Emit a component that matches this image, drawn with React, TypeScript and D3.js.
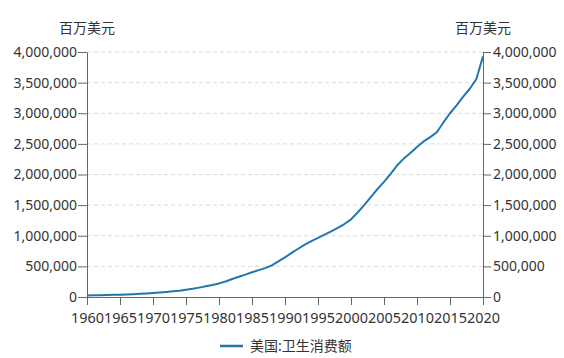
import React, { useEffect, useRef } from 'react';
import * as d3 from 'd3';

// 美国卫生消费额，百万美元
const years: number[] = d3.range(1960, 2021);
const healthSpend: number[] = [
  25000, 27000, 29000, 32000, 35000, 38000, 42000, 46000, 52000, 58000,
  66000, 75000, 83000, 93000, 103000, 117000, 133000, 153000, 174000, 196000,
  222000, 253000, 294000, 331000, 366000, 403000, 439000, 472000, 516000, 582000,
  646000, 720000, 788000, 854000, 913000, 965000, 1020000, 1073000, 1129000, 1191000,
  1267000, 1380000, 1500000, 1630000, 1760000, 1880000, 2010000, 2150000, 2260000, 2350000,
  2450000, 2540000, 2610000, 2690000, 2850000, 3000000, 3130000, 3270000, 3400000, 3560000,
  3930000,
];
const xTicks: number[] = d3.range(1960, 2021, 5);
const yTicks: number[] = d3.range(0, 4000001, 500000);
const unitLabel = '百万美元';
const seriesName = '美国:卫生消费额';

const W = 564;
const H = 358;
const FONT = '"Noto Sans", "Noto Sans CJK SC", sans-serif';

const App: React.FC = () => {
  const svgRef = useRef<SVGSVGElement>(null);

  useEffect(() => {
    if (!svgRef.current) return;
    const margin = { top: 52, right: 81, bottom: 61, left: 87 };
    const width = W - margin.left - margin.right;
    const height = H - margin.top - margin.bottom;

    const svg = d3.select(svgRef.current);
    svg.selectAll('*').remove();

    const g = svg.append('g').attr('transform', `translate(${margin.left},${margin.top})`);

    const x = d3.scaleLinear().domain([1960, 2020]).range([0, width]);
    const y = d3.scaleLinear().domain([0, 4000000]).range([height, 0]);

    // grid
    g.append('g')
      .selectAll('line')
      .data(yTicks.filter(d => d > 0))
      .enter().append('line')
      .attr('x1', 0)
      .attr('x2', width)
      .attr('y1', d => y(d))
      .attr('y2', d => y(d))
      .attr('stroke', '#dcdcdc')
      .attr('stroke-dasharray', '4,3');

    const fmt = d3.format(',');

    const styleAxis = (size: string) => (sel: d3.Selection<SVGGElement, unknown, null, undefined>) => {
      sel.selectAll('path, line').attr('stroke', '#666');
      sel.selectAll('text').attr('fill', '#333').style('font-size', size).style('font-family', FONT);
    };

    g.append('g')
      .call(d3.axisLeft(y).tickValues(yTicks).tickFormat(d => fmt(d as number)).tickSize(9).tickPadding(1).tickSizeOuter(0))
      .call(styleAxis('14px'));

    g.append('g')
      .attr('transform', `translate(${width},0)`)
      .call(d3.axisRight(y).tickValues(yTicks).tickFormat(d => fmt(d as number)).tickSize(8).tickPadding(2).tickSizeOuter(0))
      .call(styleAxis('14px'));

    g.append('g')
      .attr('transform', `translate(0,${height})`)
      .call(d3.axisBottom(x).tickValues(xTicks).tickFormat(d => String(d)).tickSize(8).tickPadding(8).tickSizeOuter(0))
      .call(styleAxis('14.4px'));

    const line = d3.line<number>()
      .x((_, i) => x(years[i]))
      .y(d => y(d));

    g.append('path')
      .datum(healthSpend)
      .attr('fill', 'none')
      .attr('stroke', '#2177ad')
      .attr('stroke-width', 2)
      .attr('stroke-linejoin', 'round')
      .attr('d', line);

    // unit titles
    [0, width].forEach(px => {
      g.append('text')
        .attr('x', px)
        .attr('y', -19)
        .attr('text-anchor', 'middle')
        .attr('fill', '#333')
        .style('font-size', '14px')
        .style('font-family', FONT)
        .text(unitLabel);
    });

    // legend
    const lg = svg.append('g').attr('transform', `translate(220,346)`);
    lg.append('line')
      .attr('x1', 0).attr('x2', 23)
      .attr('stroke', '#2177ad')
      .attr('stroke-width', 2.5);
    lg.append('text')
      .attr('x', 30)
      .attr('dy', '0.35em')
      .attr('fill', '#333')
      .style('font-size', '14px')
      .style('font-family', FONT)
      .text(seriesName);
  }, []);

  return (
    <svg
      ref={svgRef}
      width={W}
      height={H}
      style={{ position: 'absolute', left: 0, top: 0, background: '#fff' }}
    />
  );
};

export default App;
